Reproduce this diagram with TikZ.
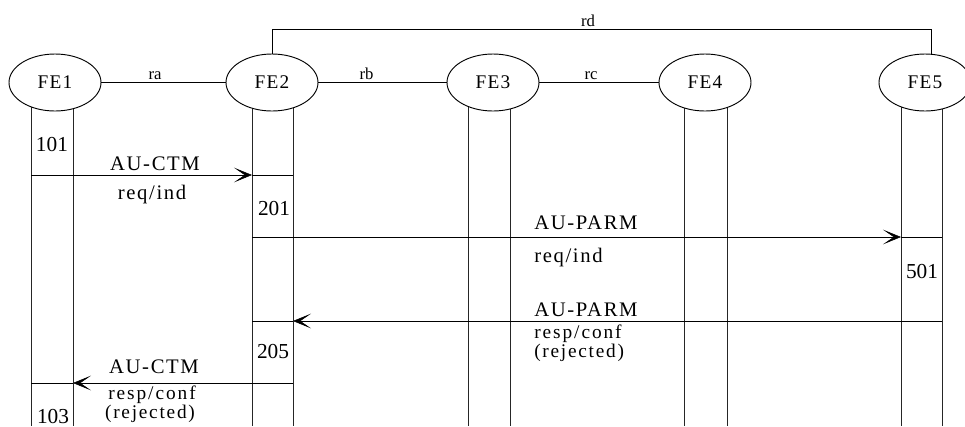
\documentclass[tikz,border=0pt]{standalone}
\usepackage{fontspec}
\setmainfont{Liberation Serif}
\newfontfamily\capsfont[LetterSpace=8]{Liberation Serif}
\newfontfamily\lowfont[LetterSpace=8]{Liberation Serif}
\newfontfamily\respfont[LetterSpace=10]{Liberation Serif}
\newfontfamily\rejfont[LetterSpace=9]{Liberation Serif}
\newfontfamily\fefont[LetterSpace=6]{Liberation Serif}
\usetikzlibrary{shapes.geometric,arrows.meta}
\tikzset{
  fe/.style={ellipse, draw, fill=white, minimum width=69pt, minimum height=42.75pt, inner sep=0pt, line width=0.7pt, font=\fefont\fontsize{14.5}{17}\selectfont},
  life/.style={line width=0.7pt, draw=black!85},
  link/.style={line width=0.7pt},
  msg/.style={line width=0.7pt, -{Stealth[length=13.5pt,width=11pt,inset=8pt,line width=0.4pt]}},
  tick/.style={line width=0.7pt},
  capl/.style={anchor=base, inner sep=0pt, font=\capsfont\fontsize{15.5}{18}\selectfont},
  lowl/.style={anchor=base, inner sep=0pt, font=\lowfont\fontsize{15.5}{18}\selectfont},
  respl/.style={anchor=base, inner sep=0pt, font=\respfont\fontsize{14.5}{17}\selectfont},
  rejl/.style={anchor=base, inner sep=0pt, font=\rejfont\fontsize{14.5}{17}\selectfont},
  numl/.style={anchor=base, inner sep=0pt, font=\fontsize{16}{19}\selectfont},
  ifl/.style={anchor=base, inner sep=0pt, font=\fontsize{12.5}{14}\selectfont}
}
\begin{document}
\begin{tikzpicture}[x=0.75pt,y=-0.75pt]
\useasboundingbox (0,0) rectangle (965,426);
% lifelines
\foreach \lx in {31,73,252,293,468,510,684,727,901,942}{
  \draw[life] (\lx,100) -- (\lx,426);
}
% entities
\node[fe] (fe1) at (55,82.5) {\raisebox{-2.6pt}{FE1}};
\node[fe] (fe2) at (272,82.5) {\raisebox{-2.6pt}{FE2}};
\node[fe] (fe3) at (493,82.5) {\raisebox{-2.6pt}{FE3}};
\node[fe] (fe4) at (705,82.5) {\raisebox{-2.6pt}{FE4}};
\node[fe] (fe5) at (925,82.5) {\raisebox{-2.6pt}{FE5}};
% relationships
\draw[link] (fe1.east) -- (fe2.west);
\draw[link] (fe2.east) -- (fe3.west);
\draw[link] (fe3.east) -- (fe4.west);
\coordinate (rdA) at (272.7,29);
\coordinate (rdB) at (931,29);
\draw[link] (fe2.north) ++(0.7,0) -- (rdA) -- (rdB) -- (931,54);
\node[ifl] (ra) at (155,79) {ra};
\node[ifl] (rb) at (366.5,79) {rb};
\node[ifl] (rc) at (591,79) {rc};
\node[ifl] (rd) at (588,26) {rd};
% message 1
\coordinate (m1a) at (31,175);
\coordinate (m1b) at (252,175);
\coordinate (m1c) at (293,175);
\draw[msg] (m1a) -- (m1b);
\draw[tick] (m1b) -- (m1c);
\node[capl] (l1a) at (155,170.5) {AU-CTM};
\node[lowl] (l1b) at (152,199) {req/ind};
% message 2
\coordinate (m2a) at (252,237);
\coordinate (m2b) at (901,237);
\coordinate (m2c) at (942,237);
\draw[msg] (m2a) -- (m2b);
\draw[tick] (m2b) -- (m2c);
\node[capl, anchor=base west] (l2a) at (534,229) {AU-PARM};
\node[lowl, anchor=base west] (l2b) at (534,262) {req/ind};
% message 3
\coordinate (m3a) at (942,321);
\coordinate (m3b) at (293,321);
\coordinate (m3c) at (252,321);
\draw[msg] (m3a) -- (m3b);
\draw[tick] (m3b) -- (m3c);
\node[capl, anchor=base west] (l3a) at (534,316) {AU-PARM};
\node[respl, anchor=base west] (l3b) at (534,338) {resp/conf};
\node[rejl, anchor=base west] (l3c) at (534,357) {(rejected)};
% message 4
\coordinate (m4a) at (293,383);
\coordinate (m4b) at (73,383);
\coordinate (m4c) at (31,383);
\draw[msg] (m4a) -- (m4b);
\draw[tick] (m4b) -- (m4c);
\node[capl] (l4a) at (154,373) {AU-CTM};
\node[respl] (l4b) at (152,399) {resp/conf};
\node[rejl] (l4c) at (150,418) {(rejected)};
% state numbers
\node[numl] (n101) at (52,151) {101};
\node[numl] (n201) at (274,215) {201};
\node[numl] (n501) at (922,278) {501};
\node[numl] (n205) at (273,358) {205};
\node[numl] (n103) at (53,423) {103};
\end{tikzpicture}
\end{document}
